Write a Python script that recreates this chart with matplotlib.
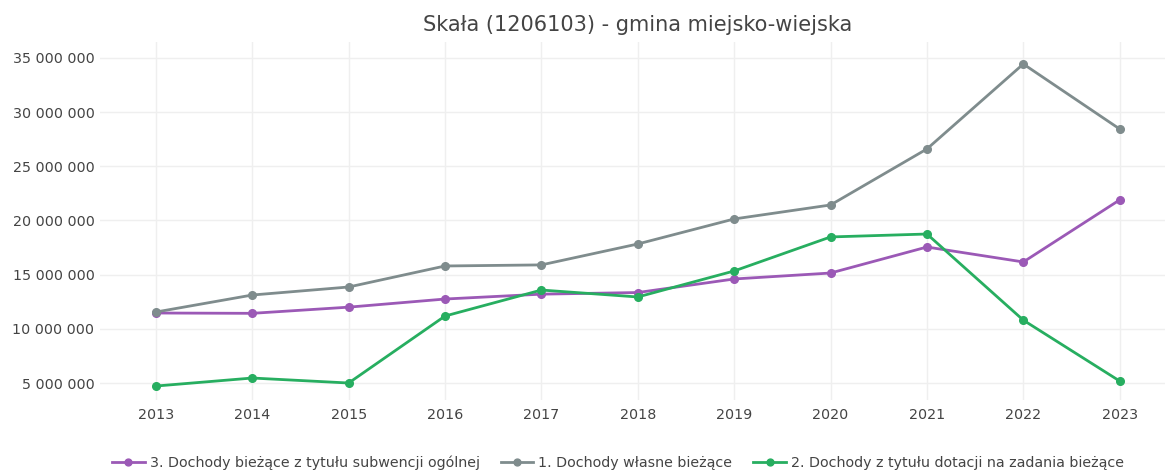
import matplotlib
matplotlib.use("Agg")
import matplotlib.pyplot as plt
from matplotlib.ticker import FuncFormatter, MultipleLocator

# Data
years = [2013, 2014, 2015, 2016, 2017, 2018, 2019, 2020, 2021, 2022, 2023]
subwencja = [11.46e6, 11.43e6, 12.0e6, 12.75e6, 13.2e6, 13.35e6, 14.6e6, 15.15e6, 17.55e6, 16.17e6, 21.9e6]
wlasne = [11.55e6, 13.12e6, 13.86e6, 15.8e6, 15.9e6, 17.83e6, 20.14e6, 21.43e6, 26.6e6, 34.44e6, 28.44e6]
dotacje = [4.72e6, 5.46e6, 5.0e6, 11.18e6, 13.58e6, 12.94e6, 15.34e6, 18.48e6, 18.75e6, 10.8e6, 5.18e6]

labels = [
    "3. Dochody bieżące z tytułu subwencji ogólnej",
    "1. Dochody własne bieżące",
    "2. Dochody z tytułu dotacji na zadania bieżące",
]
colors = ["#9b59b6", "#7f8c8d", "#27ae60"]

plt.rcParams["font.family"] = ["DejaVu Sans"]
text_color = "#444444"

fig = plt.figure(figsize=(11.65, 4.72), dpi=100)
ax = fig.add_axes([0.0858, 0.1525, 0.9142, 0.7585])

for series, label, color in zip([subwencja, wlasne, dotacje], labels, colors):
    ax.plot(years, series, color=color, lw=2, marker="o", markersize=5.5, label=label)

ax.set_xlim(2012.42, 2023.47)
ax.set_ylim(3.43e6, 36.47e6)
ax.xaxis.set_major_locator(MultipleLocator(1))
ax.yaxis.set_major_locator(MultipleLocator(5e6))
ax.yaxis.set_major_formatter(FuncFormatter(lambda v, p: f"{int(v):,}".replace(",", " ")))

ax.grid(True, color="#efefef", lw=1)
ax.set_axisbelow(True)
for s in ax.spines.values():
    s.set_visible(False)
ax.tick_params(length=0, labelsize=10.3, colors=text_color)
ax.tick_params(axis="y", pad=4)
ax.tick_params(axis="x", pad=6)

fig.text(0.547, 0.947, "Skała (1206103) - gmina miejsko-wiejska",
         ha="center", va="center", fontsize=15, color=text_color)

fig.legend(loc="center", bbox_to_anchor=(0.5305, 0.02), ncol=3, frameon=False,
           fontsize=10.3, handlelength=2.3, handletextpad=0.35, columnspacing=1.45,
           labelcolor=text_color, markerscale=0.9)

fig.savefig("out.png", dpi=100)
